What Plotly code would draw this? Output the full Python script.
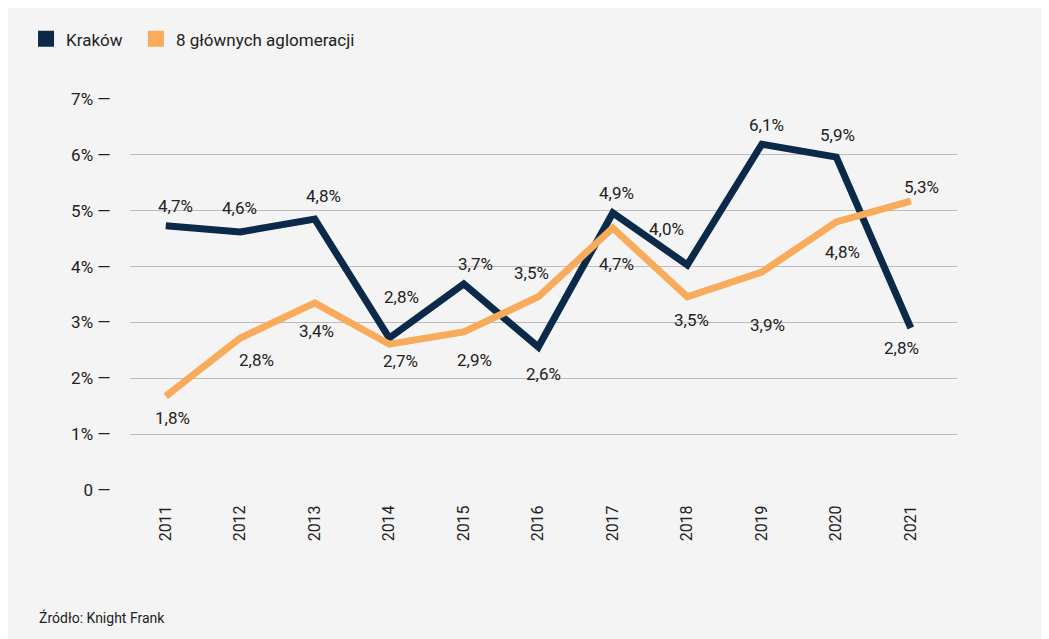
import plotly.graph_objects as go

years = ["2011", "2012", "2013", "2014", "2015", "2016", "2017", "2018", "2019", "2020", "2021"]
krakow = [4.73, 4.62, 4.85, 2.72, 3.69, 2.56, 4.96, 4.03, 6.19, 5.96, 2.90]
krakow_labels = ["4,7%", "4,6%", "4,8%", "2,8%", "3,7%", "2,6%", "4,9%", "4,0%", "6,1%", "5,9%", "2,8%"]
aglo = [1.68, 2.72, 3.35, 2.61, 2.83, 3.46, 4.69, 3.46, 3.90, 4.80, 5.17]
aglo_labels = ["1,8%", "2,8%", "3,4%", "2,7%", "2,9%", "3,5%", "4,7%", "3,5%", "3,9%", "4,8%", "5,3%"]
y_ticks = [0, 1, 2, 3, 4, 5, 6, 7]
y_ticktext = ["0 —", "1% —", "2% —", "3% —", "4% —", "5% —", "6% —", "7% —"]

NAVY = "#0b2a49"
ORANGE = "#f7ab5b"
FONT = "Roboto, sans-serif"

# label offsets in px (dx, dy up) to mimic the hand placed labels
krakow_off = [(10, 20), (-1, 24), (9, 23), (12, 41), (12, 20), (5, -27), (4, 20), (-21, 36), (5, 19), (1, 22), (-9, -20)]
aglo_off = [(7, -22), (16, -22), (2, -28), (11, -17), (11, -28), (-7, 24), (4, -36), (4, -23), (6, -53), (6, -30), (11, 14)]

xs = list(range(len(years)))

fig = go.Figure()
fig.add_trace(go.Scatter(x=xs, y=krakow, mode="lines", line=dict(color=NAVY, width=7), showlegend=False, hoverinfo="skip"))
fig.add_trace(go.Scatter(x=xs, y=aglo, mode="lines", line=dict(color=ORANGE, width=7), showlegend=False, hoverinfo="skip"))
fig.add_trace(go.Scatter(x=[None], y=[None], mode="markers", name="Kraków\u00a0\u00a0",
                         marker=dict(symbol="square", size=20, color=NAVY)))
fig.add_trace(go.Scatter(x=[None], y=[None], mode="markers", name="8 głównych aglomeracji",
                         marker=dict(symbol="square", size=20, color=ORANGE)))

anns = []
for vals, labels, offs in [(krakow, krakow_labels, krakow_off), (aglo, aglo_labels, aglo_off)]:
    for x, v, t, (dx, dy) in zip(xs, vals, labels, offs):
        anns.append(dict(x=x, y=v, text=t, showarrow=False, xshift=dx, yshift=dy,
                         font=dict(size=17, color="#222", family=FONT)))
anns.append(dict(x=-0.1125, y=-0.325, xref="paper", yref="paper", text="Źródło: Knight Frank",
                 showarrow=False, xanchor="left", yanchor="middle",
                 font=dict(size=14, color="#222", family=FONT)))
fig.update_layout(annotations=anns)

fig.update_layout(
    width=1049, height=639,
    margin=dict(l=122, r=100, t=91, b=157, autoexpand=False),
    paper_bgcolor="#f4f4f4", plot_bgcolor="#f4f4f4",
    font=dict(family=FONT, color="#222"),
    legend=dict(orientation="h", xref="container", yref="container", x=0.0172, y=0.951,
                xanchor="left", yanchor="middle",
                font=dict(size=17, family=FONT, color="#222"),
                bgcolor="rgba(0,0,0,0)", itemwidth=30, tracegroupgap=0),
    xaxis=dict(range=[-0.48, 10.62], tickvals=xs, ticktext=years, tickangle=-90,
               showgrid=False, zeroline=False, showline=False,
               ticks="outside", ticklen=8, tickcolor="rgba(0,0,0,0)",
               tickfont=dict(size=16, color="#222", family=FONT)),
    yaxis=dict(range=[0, 7], tickvals=y_ticks, ticktext=y_ticktext,
               showgrid=True, gridcolor="#bcbcbc", gridwidth=1, zeroline=False, showline=False,
               ticks="outside", ticklen=15, tickcolor="rgba(0,0,0,0)",
               tickfont=dict(size=17, color="#222", family=FONT)),
)

fig.write_html("out.html")
